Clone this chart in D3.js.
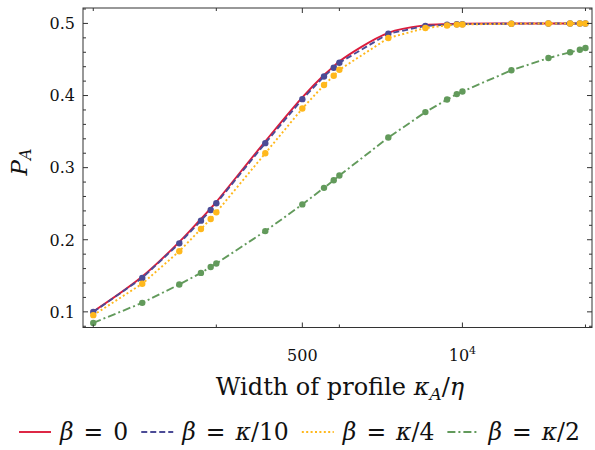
<!DOCTYPE html>
<html>
<head>
<meta charset="utf-8">
<script src="https://cdn.jsdelivr.net/npm/d3@7"></script>
<style>
  body { margin: 0; background: #fff; }
  svg { font-family: "DejaVu Serif", serif; }
</style>
</head>
<body>
<div id="chart"></div>
<script>
// data
const widths = [10, 25, 50, 75, 90, 100, 250, 500, 750, 900, 1000, 2500, 5000, 7500, 9000, 10000, 25000, 50000, 75000, 90000, 100000];
const pBeta0 = [0.1005, 0.149, 0.197, 0.229, 0.2435, 0.2525, 0.3365, 0.3975, 0.4285, 0.4405, 0.4475, 0.487, 0.4975, 0.499, 0.4994, 0.4996, 0.4999, 0.5, 0.5, 0.5, 0.5];
const pBeta10 = [0.0998, 0.147, 0.195, 0.2265, 0.2413, 0.2506, 0.334, 0.395, 0.4264, 0.4385, 0.4455, 0.4857, 0.4966, 0.4982, 0.4988, 0.499, 0.4997, 0.4999, 0.5, 0.5, 0.5];
const pBeta4 = [0.0954, 0.139, 0.184, 0.2149, 0.2288, 0.238, 0.32, 0.382, 0.4146, 0.4274, 0.4357, 0.4798, 0.4937, 0.4972, 0.4984, 0.4986, 0.4996, 0.4999, 0.5, 0.5, 0.5];
const pBeta2 = [0.0847, 0.1125, 0.138, 0.154, 0.1623, 0.167, 0.212, 0.249, 0.272, 0.2825, 0.289, 0.3417, 0.377, 0.3944, 0.402, 0.4056, 0.435, 0.452, 0.46, 0.4635, 0.466];
const yTicks = [0.1, 0.2, 0.3, 0.4, 0.5];
const xMajor = [500, 10000];
const xMinor = [10, 100, 1000, 100000];

const W = 595, H = 450;
const mLeft = 83, mRight = 592, mTop = 8, mBottom = 327.5;

const svg = d3.select("#chart").append("svg")
  .attr("width", W).attr("height", H);

const x = d3.scaleLog().domain([8.25, 113000]).range([mLeft, mRight]);
const y = d3.scaleLinear().domain([0.0783, 0.5214]).range([mBottom, mTop]);

const series = [
  { label: "0", values: pBeta0, color: "#dc1c3c", dash: null, marker: false, curve: d3.curveCatmullRom.alpha(0.5) },
  { label: "κ/10", values: pBeta10, color: "#4b4b96", dash: "6,3", marker: true, curve: d3.curveLinear },
  { label: "κ/4", values: pBeta4, color: "#ffb81c", dash: "2,2.4", marker: true, curve: d3.curveLinear },
  { label: "κ/2", values: pBeta2, color: "#629a5b", dash: "8,3,2,3", marker: true, curve: d3.curveLinear }
];

// lines + markers
const plot = svg.append("g");
series.forEach(s => {
  const pts = widths.map((w, i) => [w, s.values[i]]);
  plot.append("path")
    .datum(pts)
    .attr("fill", "none")
    .attr("stroke", s.color)
    .attr("stroke-width", 1.9)
    .attr("stroke-dasharray", s.dash)
    .attr("d", d3.line().curve(s.curve).x(d => x(d[0])).y(d => y(d[1])));
  if (s.marker) {
    plot.selectAll(null)
      .data(pts)
      .join("circle")
      .attr("cx", d => x(d[0]))
      .attr("cy", d => y(d[1]))
      .attr("r", 3.2)
      .attr("fill", s.color);
  }
});

// frame
const axisColor = "#333";
svg.append("rect")
  .attr("x", mLeft).attr("y", mTop)
  .attr("width", mRight - mLeft).attr("height", mBottom - mTop)
  .attr("fill", "none").attr("stroke", axisColor).attr("stroke-width", 1);

// ticks, pointing inward on all four sides
const yMinor = d3.range(0.08, 0.5201, 0.02).filter(v => !yTicks.some(t => Math.abs(t - v) < 1e-6));
const tg = svg.append("g").attr("stroke", axisColor).attr("stroke-width", 1);
yTicks.forEach(v => {
  tg.append("line").attr("x1", mLeft).attr("x2", mLeft + 5).attr("y1", y(v)).attr("y2", y(v));
  tg.append("line").attr("x1", mRight).attr("x2", mRight - 5).attr("y1", y(v)).attr("y2", y(v));
});
yMinor.forEach(v => {
  tg.append("line").attr("x1", mLeft).attr("x2", mLeft + 3).attr("y1", y(v)).attr("y2", y(v));
  tg.append("line").attr("x1", mRight).attr("x2", mRight - 3).attr("y1", y(v)).attr("y2", y(v));
});
xMajor.forEach(v => {
  tg.append("line").attr("x1", x(v)).attr("x2", x(v)).attr("y1", mBottom).attr("y2", mBottom - 5);
  tg.append("line").attr("x1", x(v)).attr("x2", x(v)).attr("y1", mTop).attr("y2", mTop + 5);
});
xMinor.forEach(v => {
  tg.append("line").attr("x1", x(v)).attr("x2", x(v)).attr("y1", mBottom).attr("y2", mBottom - 3);
  tg.append("line").attr("x1", x(v)).attr("x2", x(v)).attr("y1", mTop).attr("y2", mTop + 3);
});

// tick labels
svg.selectAll(".ylab")
  .data(yTicks)
  .join("text")
  .attr("x", mLeft - 8)
  .attr("y", d => y(d))
  .attr("dy", "0.36em")
  .attr("text-anchor", "end")
  .attr("font-size", 16)
  .attr("fill", "#111")
  .text(d => d.toFixed(1));

svg.append("text")
  .attr("x", x(500)).attr("y", 361)
  .attr("text-anchor", "middle").attr("font-size", 16).attr("fill", "#111")
  .text("500");
const x1e4 = svg.append("text")
  .attr("x", x(10000)).attr("y", 361)
  .attr("text-anchor", "middle").attr("font-size", 16).attr("fill", "#111");
x1e4.append("tspan").text("10");
x1e4.append("tspan").attr("font-size", 11).attr("dy", -7).text("4");

// axis titles
const xt = svg.append("text")
  .attr("x", 340).attr("y", 395)
  .attr("text-anchor", "middle").attr("font-size", 24).attr("fill", "#111");
xt.append("tspan").text("Width of profile ");
xt.append("tspan").attr("font-style", "italic").text("κ");
xt.append("tspan").attr("font-style", "italic").attr("font-size", 17).attr("dy", 5).text("A");
xt.append("tspan").attr("dy", -5).text("/");
xt.append("tspan").attr("font-style", "italic").text("η");

const yt = svg.append("text")
  .attr("transform", `translate(27,162) rotate(-90)`)
  .attr("text-anchor", "middle").attr("font-size", 23).attr("fill", "#111");
yt.append("tspan").attr("font-style", "italic").text("P");
yt.append("tspan").attr("font-style", "italic").attr("font-size", 16).attr("dy", 4).text("A");

// legend
const legend = svg.append("g");
let lx = 19;
const ly = 432;
series.forEach(s => {
  legend.append("line")
    .attr("x1", lx).attr("x2", lx + 32)
    .attr("y1", ly).attr("y2", ly)
    .attr("stroke", s.color).attr("stroke-width", 1.9)
    .attr("stroke-dasharray", s.dash);
  const t = legend.append("text")
    .attr("x", lx + 41).attr("y", ly).attr("dy", "0.35em")
    .attr("font-size", 23.5).attr("fill", "#111");
  t.append("tspan").attr("font-style", "italic").text("β");
  t.append("tspan").attr("dx", 10).text("=");
  if (s.label === "0") {
    t.append("tspan").attr("dx", 10).text("0");
  } else {
    const parts = s.label.split("/");
    t.append("tspan").attr("dx", 10).attr("font-style", "italic").text(parts[0]);
    t.append("tspan").text("/" + parts[1]);
  }
  lx = t.node().getBBox().x + t.node().getBBox().width + 13;
});
</script>
</body>
</html>
